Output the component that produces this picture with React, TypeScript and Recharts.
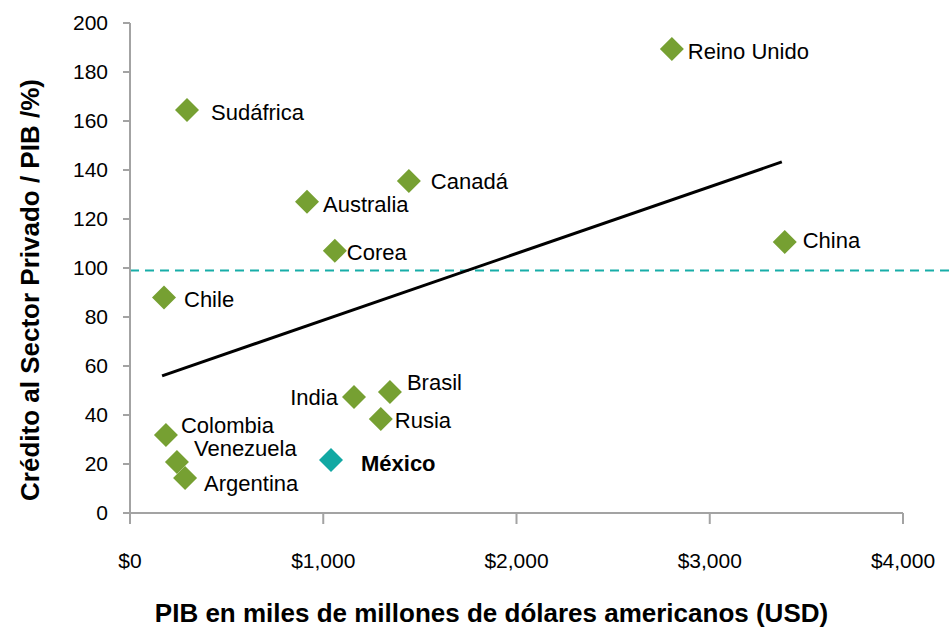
import {
  ScatterChart,
  Scatter,
  XAxis,
  YAxis,
  ReferenceLine,
  LabelList,
} from 'recharts';

// PIB (miles de millones USD) vs crédito privado / PIB (%)
const countries = [
  'Reino Unido', 'Sudáfrica', 'Canadá', 'Australia', 'Corea', 'China', 'Chile',
  'Brasil', 'India', 'Rusia', 'Colombia', 'Venezuela', 'Argentina',
];
const gdp = [2804, 295, 1443, 916, 1060, 3388, 176, 1345, 1159, 1298, 186, 243, 285];
const credit = [189.4, 164.5, 135.5, 127, 107, 110.6, 88, 49.4, 47.3, 38.4, 31.8, 20.8, 14.3];

const mexicoGdp = 1040;
const mexicoCredit = 21.6;

const trendX = [166, 3373];
const trendY = [56, 143.3];

const thresholdY = 99;

const xTicks = [0, 1000, 2000, 3000, 4000];
const yTicks = [0, 20, 40, 60, 80, 100, 120, 140, 160, 180, 200];

// where each label sits relative to its marker
const labelOffsets: Record<string, [number, number, 'start' | 'end']> = {
  'Reino Unido': [16, 2, 'start'],
  'Sudáfrica': [24, 2, 'start'],
  'Canadá': [22, 0, 'start'],
  'Australia': [16, 2, 'start'],
  'Corea': [12, 1, 'start'],
  'China': [18, -2, 'start'],
  'Chile': [20, 2, 'start'],
  'Brasil': [17, -10, 'start'],
  'India': [-16, 0, 'end'],
  'Rusia': [14, 1, 'start'],
  'Colombia': [15, -10, 'start'],
  'Venezuela': [17, -14, 'start'],
  'Argentina': [19, 5, 'start'],
  'México': [30, 3, 'start'],
};

const points = countries.map((name, i) => ({ name, x: gdp[i], y: credit[i] }));
const mexico = [{ name: 'México', x: mexicoGdp, y: mexicoCredit }];
const trend = trendX.map((x, i) => ({ x, y: trendY[i] }));

const font = 'Arial, "Liberation Sans", Helvetica, sans-serif';
const axisColor = '#A3A3A3';

const Diamond = (color: string) => (props: any) => {
  const { cx, cy } = props;
  const r = 12;
  return (
    <polygon
      points={`${cx},${cy - r} ${cx + r},${cy} ${cx},${cy + r} ${cx - r},${cy}`}
      fill={color}
    />
  );
};

const PointLabel = (bold: boolean) => (props: any) => {
  const { x, y, width, height, value } = props;
  const cx = x + width / 2;
  const cy = y + height / 2;
  const [dx, dy, anchor] = labelOffsets[value] || [15, 0, 'start'];
  return (
    <text
      x={cx + dx}
      y={cy + dy}
      dy="0.35em"
      textAnchor={anchor}
      fontSize={22}
      fontWeight={bold ? 700 : 400}
      fill="#000"
      fontFamily={font}
    >
      {value}
    </text>
  );
};

const titleStyle = { fontSize: 26, fontWeight: 700, fill: '#000', fontFamily: font };

const XTitle = ({ viewBox }: any) => (
  <text
    x={viewBox.x + viewBox.width / 2 - 25}
    y={viewBox.y + 100}
    dy="0.35em"
    textAnchor="middle"
    {...titleStyle}
  >
    PIB en miles de millones de dólares americanos (USD)
  </text>
);

const YTitle = ({ viewBox }: any) => {
  const x = viewBox.x + 30;
  const y = viewBox.y + viewBox.height / 2 + 22;
  return (
    <text
      x={x}
      y={y}
      dy="0.35em"
      textAnchor="middle"
      transform={`rotate(-90, ${x}, ${y})`}
      {...titleStyle}
    >
      Crédito al Sector Privado / PIB /%)
    </text>
  );
};

const fmtUsd = (v: number) => `$${v.toLocaleString('en-US')}`;

export default function App() {
  return (
    <div style={{ position: 'absolute', left: 0, top: 0, background: '#fff' }}>
      <ScatterChart
        width={950}
        height={627}
        margin={{ top: 23, right: 47, left: 0, bottom: 0 }}
      >
        <XAxis
          type="number"
          dataKey="x"
          domain={[0, 4000]}
          ticks={xTicks}
          tickFormatter={fmtUsd}
          height={114}
          stroke={axisColor}
          strokeWidth={2}
          tickSize={11}
          tickMargin={29}
          tick={{ fontSize: 21, fill: '#000', fontFamily: font }}
          label={<XTitle />}
        />
        <YAxis
          type="number"
          dataKey="y"
          domain={[0, 200]}
          ticks={yTicks}
          width={130}
          stroke={axisColor}
          strokeWidth={2}
          tickSize={7}
          tickMargin={15}
          tick={{ fontSize: 21, fill: '#000', fontFamily: font }}
          label={<YTitle />}
        />
        <ReferenceLine
          segment={[{ x: 0, y: thresholdY }, { x: 4250, y: thresholdY }]}
          ifOverflow="visible"
          stroke="#18ADA8"
          strokeWidth={2}
          strokeDasharray="9 6"
        />
        <Scatter
          data={trend}
          line={{ stroke: '#000', strokeWidth: 3 }}
          shape={() => null}
          isAnimationActive={false}
        />
        <Scatter data={points} shape={Diamond('#76A032')} isAnimationActive={false}>
          <LabelList dataKey="name" content={PointLabel(false)} />
        </Scatter>
        <Scatter data={mexico} shape={Diamond('#12A8A3')} isAnimationActive={false}>
          <LabelList dataKey="name" content={PointLabel(true)} />
        </Scatter>
      </ScatterChart>
    </div>
  );
}
